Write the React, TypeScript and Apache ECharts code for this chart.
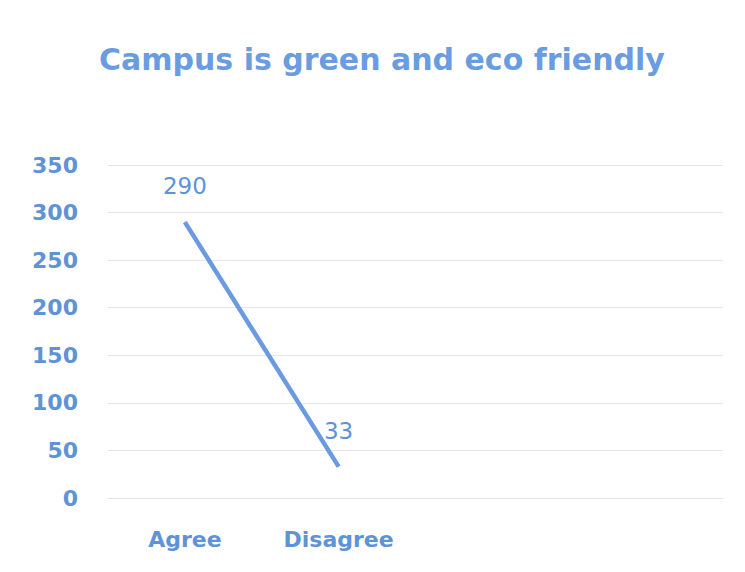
import React, { useEffect, useRef } from "react";
import * as echarts from "echarts";

const categories = ["Agree", "Disagree", "", ""];
const values = [290, 33, null, null];
const yTicks = { min: 0, max: 350, interval: 50 };
const titleText = "Campus is green and eco friendly";

export default function App() {
  const ref = useRef<HTMLDivElement>(null);
  useEffect(() => {
    const chart = echarts.init(ref.current!, null, { renderer: "svg" });
    const blue = "#5e93d8";
    const font = "'DejaVu Sans', sans-serif";
    chart.setOption({
      animation: false,
      backgroundColor: "#ffffff",
      title: {
        text: titleText,
        left: 94,
        top: 39,
        textStyle: { color: "#6a9de0", fontSize: 30, fontWeight: "bold", fontFamily: font },
      },
      grid: { left: 108, right: 22, top: 165, bottom: 74 },
      xAxis: {
        type: "category",
        data: categories,
        boundaryGap: true,
        axisLine: { show: true, lineStyle: { color: "#e4e4e4", width: 1 } },
        axisTick: { show: false },
        axisLabel: { color: blue, fontSize: 22, fontWeight: "bold", fontFamily: font, margin: 30 },
      },
      yAxis: {
        type: "value",
        min: yTicks.min,
        max: yTicks.max,
        interval: yTicks.interval,
        axisLine: { show: false },
        axisTick: { show: false },
        splitLine: { lineStyle: { color: "#e6e6e6", width: 1 } },
        axisLabel: { color: blue, fontSize: 22, fontWeight: "bold", fontFamily: font, margin: 30 },
      },
      series: [
        {
          type: "line",
          data: values,
          symbol: "circle",
          symbolSize: 1,
          showSymbol: true,
          itemStyle: { color: "#6a9be0" },
          lineStyle: { color: "#6a9be0", width: 4.5 },
          label: {
            show: true,
            position: "top",
            distance: 24,
            color: blue,
            fontSize: 23,
            fontFamily: font,
          },
        },
      ],
    });
    return () => chart.dispose();
  }, []);
  return (
    <div
      ref={ref}
      style={{ position: "absolute", left: 0, top: 0, width: 745, height: 572 }}
    />
  );
}
